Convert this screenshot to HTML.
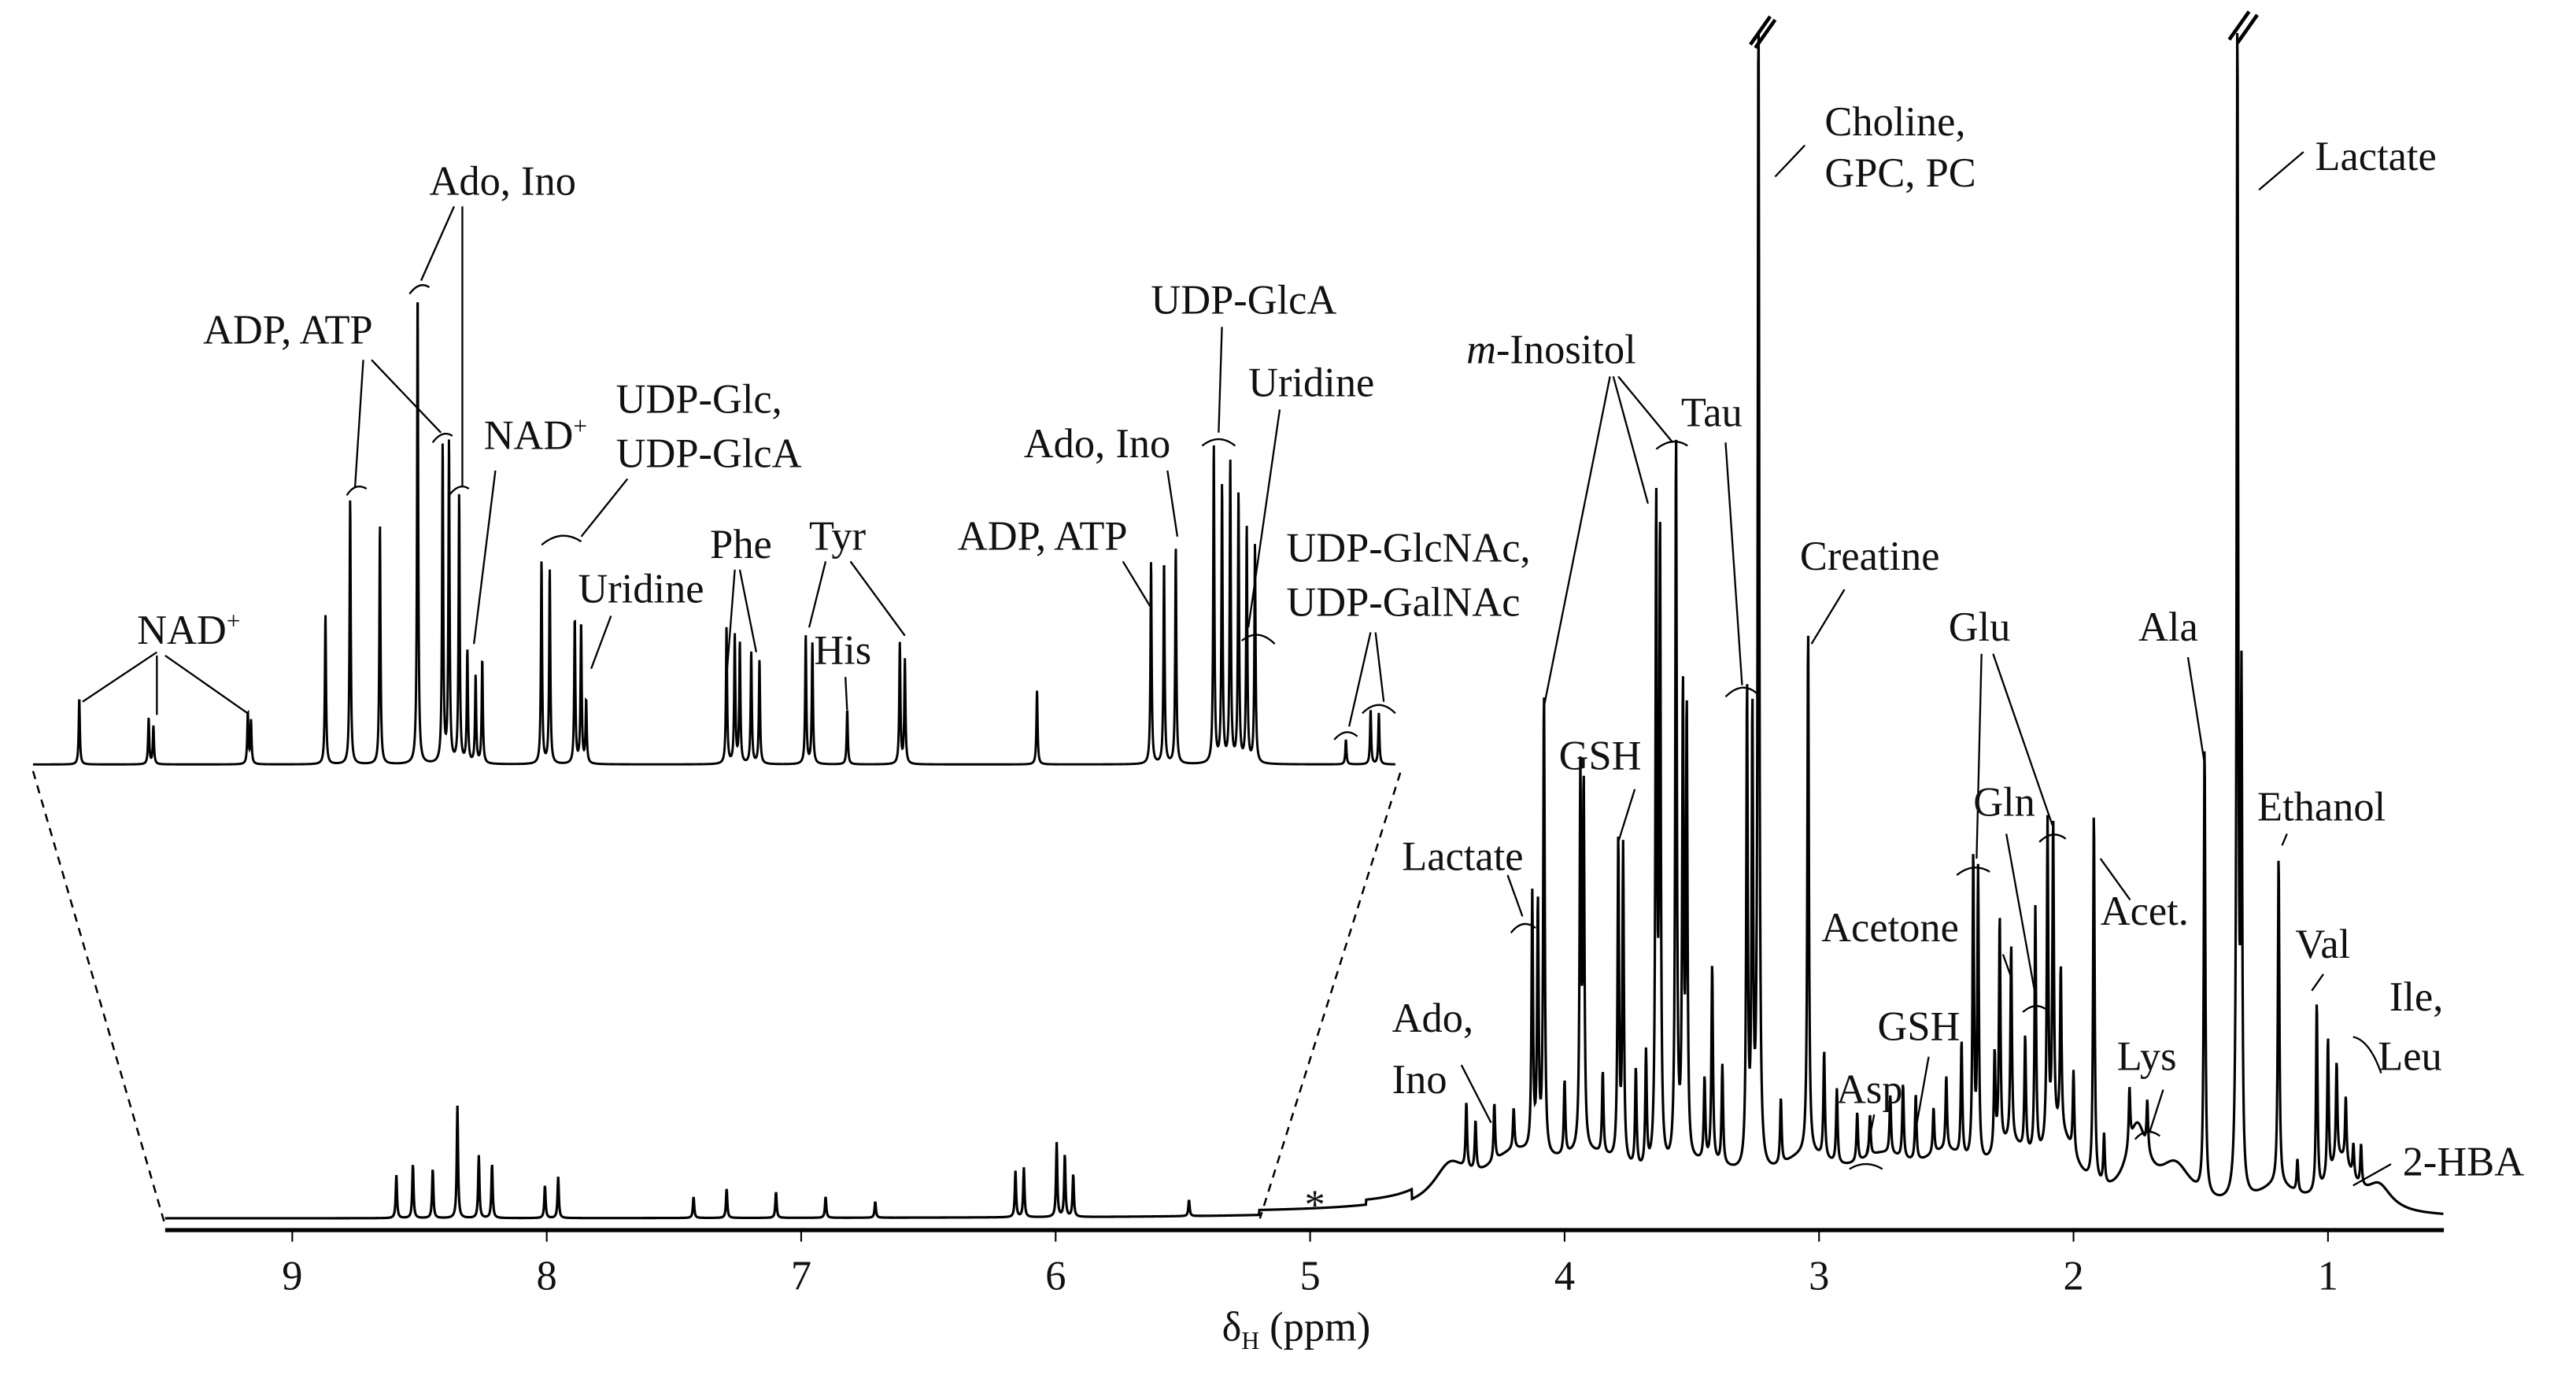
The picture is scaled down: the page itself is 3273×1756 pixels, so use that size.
<!DOCTYPE html>
<html><head><meta charset="utf-8"><style>
html,body{margin:0;padding:0;background:#fff;}
svg{display:block;}
text{font-family:"Liberation Serif",serif;font-size:25px;fill:#111;}
</style></head><body>
<svg id="chart" width="3273" height="1756" viewBox="0 0 1560 837" preserveAspectRatio="none" xmlns="http://www.w3.org/2000/svg">
<g id="axis"></g>
<path id="mainSpec" fill="none" stroke="#000" stroke-width="1.5"/>
<path id="insetSpec" fill="none" stroke="#000" stroke-width="1.4"/>
<g stroke="#000" stroke-width="1.2" stroke-dasharray="5,4">
<line x1="20" y1="467" x2="100" y2="742"/><line x1="848" y1="468" x2="763" y2="738"/></g>
<g stroke="#000" stroke-width="2.2">
<line x1="1060" y1="27" x2="1072" y2="10"/><line x1="1063" y1="29" x2="1075" y2="12"/>
<line x1="1350" y1="24" x2="1362" y2="7"/><line x1="1355" y1="26" x2="1367" y2="9"/></g>
<g stroke="#000" stroke-width="1.1" fill="none">
<path d="M95 395L50 425M95 397L95 433M100 397L150 432"/>
<path d="M220 218L215 295M225 218L267 262"/>
<path d="M275 125L255 170M280 125L280 295"/>
<path d="M300 285L287 390M380 290L352 325M370 373L358 405"/>
<path d="M445 345L440 410M448 345L458 395M500 340L490 380M515 340L548 385M512 410L513 430"/>
<path d="M680 340L697 368M707 285L713 325M740 198L738 262M775 248L756 380"/>
<path d="M830 383L817 440M833 383L838 425"/>
<path d="M975 228L935 428M977 228L998 305M980 228L1013 268M1045 268L1055 415"/>
<path d="M1093 88L1075 107M1395 92L1368 115M1117 357L1097 390"/>
<path d="M990 478L980 510M913 530L922 555M1200 396L1197 520M1207 396L1243 500"/>
<path d="M1215 505L1233 605M1213 578L1218 592M1272 520L1290 545M1325 398L1335 462"/>
<path d="M1385 505L1382 512M1407 590L1400 600M1425 718L1448 705M1310 660L1302 685"/>
<path d="M1168 640L1160 685M1135 675L1130 700M885 645L903 680"/>
<path d="M210 300Q215 292 222 296M262 268Q268 260 274 264M248 178Q254 170 260 174M272 300Q278 292 284 296M328 330Q340 320 352 328M752 388Q762 380 772 390M728 270Q738 262 748 270M1003 272Q1013 264 1022 270M1045 422Q1055 412 1064 420M1185 530Q1195 522 1205 528M1235 510Q1243 502 1251 508M1225 613Q1233 606 1240 612M1293 690Q1300 682 1308 688M1120 708Q1130 702 1140 708M915 565Q922 556 930 562M808 448Q815 440 822 446M825 432Q835 422 845 432M1425 628Q1435 630 1442 650"/>
</g>
<g>
<text x="83" y="390">NAD<tspan font-size="15" dy="-9">+</tspan></text>
<text x="123" y="208">ADP, ATP</text>
<text x="260" y="118">Ado, Ino</text>
<text x="293" y="272">NAD<tspan font-size="15" dy="-9">+</tspan></text>
<text x="373" y="250">UDP-Glc,</text>
<text x="373" y="283">UDP-GlcA</text>
<text x="350" y="365">Uridine</text>
<text x="430" y="338">Phe</text>
<text x="490" y="333">Tyr</text>
<text x="493" y="402">His</text>
<text x="580" y="333">ADP, ATP</text>
<text x="620" y="277">Ado, Ino</text>
<text x="697" y="190">UDP-GlcA</text>
<text x="756" y="240">Uridine</text>
<text x="779" y="340">UDP-GlcNAc,</text>
<text x="779" y="373">UDP-GalNAc</text>
<text x="888" y="220"><tspan font-style="italic">m</tspan>-Inositol</text>
<text x="1018" y="258">Tau</text>
<text x="1105" y="82">Choline,</text>
<text x="1105" y="113">GPC, PC</text>
<text x="1402" y="103">Lactate</text>
<text x="1090" y="345">Creatine</text>
<text x="944" y="466">GSH</text>
<text x="849" y="527">Lactate</text>
<text x="1180" y="388">Glu</text>
<text x="1195" y="494">Gln</text>
<text x="1103" y="570">Acetone</text>
<text x="1272" y="560">Acet.</text>
<text x="1295" y="388">Ala</text>
<text x="1367" y="497">Ethanol</text>
<text x="1390" y="580">Val</text>
<text x="1447" y="612">Ile,</text>
<text x="1440" y="648">Leu</text>
<text x="1455" y="712">2-HBA</text>
<text x="1282" y="648">Lys</text>
<text x="1137" y="630">GSH</text>
<text x="1112" y="668">Asp</text>
<text x="843" y="625">Ado,</text>
<text x="843" y="662">Ino</text>
<text x="790" y="738">*</text>
</g>
<text x="785" y="812" text-anchor="middle">δ<tspan font-size="15" dy="5">H</tspan><tspan dy="-5"> (ppm)</tspan></text>
</svg>
<script>
// Axis ticks
const tickValues=[9,8,7,6,5,4,3,2,1];
// Main spectrum sharp peaks: ppm, height (display units above baseline)
const mainPpm=[8.591,8.526,8.448,8.351,8.267,8.215,8.007,7.955,7.423,7.293,7.099,6.904,6.709,6.158,6.125,5.996,5.964,5.931,5.476,
4.386,4.276,4.127,4.105,4.081,3.938,3.925,3.789,3.770,3.640,3.625,3.562,3.535,3.520,3.420,3.283,3.262,3.238,3.043,2.980,2.850,2.800,2.670,2.550,2.440,2.394,2.375,2.290,2.245,2.150,2.102,2.080,2.050,1.920,1.485,1.356,1.340,1.194,1.044,1.000,0.966,0.900,
4.35,4.20,4.00,3.85,3.72,3.68,3.45,3.38,3.15,2.93,2.72,2.62,2.50,2.31,2.19,2.00,1.88,1.78,1.71,1.12,0.93,0.87];
const mainHeight=[26,33,30,68,38,33,20,25,13,18,16,13,10,28,30,45,38,26,10,
40,35,155,150,280,225,218,195,190,400,380,442,280,270,120,290,270,718,320,65,30,25,45,28,70,185,175,140,120,150,195,190,100,225,273,718,300,200,115,85,60,20,
30,25,45,50,60,70,50,60,40,45,35,40,45,60,70,50,30,35,30,20,40,25];
// Broad background humps: ppm, height, width
const humpPpm=[4.45,4.2,3.9,3.45,3.05,2.75,2.5,2.25,2.05,1.75,1.6,1.2,0.95,0.8];
const humpHeight=[22,28,28,22,25,25,25,30,38,45,25,15,30,15];
const humpWidth=[0.08,0.15,0.2,0.2,0.15,0.15,0.12,0.1,0.08,0.05,0.08,0.1,0.06,0.06];
// Inset spectrum peaks: ppm, height above inset baseline
const insetPpm=[9.354,9.135,9.120,8.822,8.812,8.577,8.499,8.405,8.286,8.207,8.187,8.155,8.129,8.103,8.082,7.895,7.869,7.790,7.770,7.754,7.311,7.285,7.269,7.233,7.207,7.061,7.040,6.930,6.764,6.748,6.331,5.971,5.930,5.893,5.773,5.747,5.721,5.695,5.669,5.643,5.356,5.278,5.252];
const insetHeight=[40,28,23,31,26,91,161,145,288,193,195,163,68,53,63,123,118,88,85,38,83,78,73,68,63,78,73,33,73,63,45,123,123,131,193,168,183,163,143,133,15,33,31];

const NS='http://www.w3.org/2000/svg';
const X=p=>177+(9-p)*154.1;
const XI=p=>20+(9.5-p)*191.86;
function lor(p,c,h,w){const d=(p-c)/w;return h/(1+d*d);}
function mainBase(p){if(p>5.2)return 738;if(p>4.78)return 735;return 732;}
let d='';
for(let p=9.5;p>=0.545;p-=0.0015){
 let v=0;
 for(let i=0;i<mainPpm.length;i++)v+=lor(p,mainPpm[i],mainHeight[i],mainPpm[i]>5?0.003:0.0035);
 for(let i=0;i<humpPpm.length;i++)v+=lor(p,humpPpm[i],humpHeight[i],humpWidth[i]);
 let base=p>4.6?mainBase(p):738;
 let y=Math.max(20,base-v);
 d+=(d?'L':'M')+X(p).toFixed(2)+' '+y.toFixed(2);
}
document.getElementById('mainSpec').setAttribute('d',d);
let di='';
for(let p=9.5;p>=5.2;p-=0.0008){
 let v=0;
 for(let i=0;i<insetPpm.length;i++)v+=lor(p,insetPpm[i],insetHeight[i],0.0022);
 di+=(di?'L':'M')+XI(p).toFixed(2)+' '+(463-v).toFixed(2);
}
document.getElementById('insetSpec').setAttribute('d',di);
const ax=document.getElementById('axis');
const bl=document.createElementNS(NS,'line');
bl.setAttribute('x1',100);bl.setAttribute('x2',1480);bl.setAttribute('y1',745);bl.setAttribute('y2',745);
bl.setAttribute('stroke','#000');bl.setAttribute('stroke-width','2.5');


ax.appendChild(bl);
tickValues.forEach(t=>{
 const l=document.createElementNS(NS,'line');
 l.setAttribute('x1',X(t));l.setAttribute('x2',X(t));l.setAttribute('y1',745);l.setAttribute('y2',752);
 l.setAttribute('stroke','#000');l.setAttribute('stroke-width','1');
 
 
 ax.appendChild(l);
 const tx=document.createElementNS(NS,'text');
 tx.setAttribute('x',X(t));tx.setAttribute('y',781);tx.setAttribute('text-anchor','middle');
 tx.textContent=t;
 
 
 ax.appendChild(tx);
});
</script>
</body></html>
